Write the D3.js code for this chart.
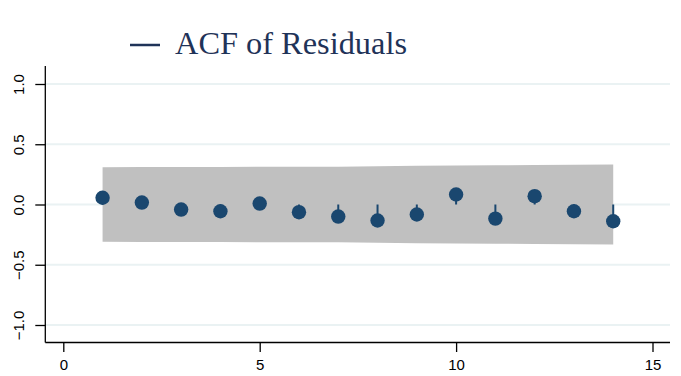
<!DOCTYPE html>
<html><head><meta charset="utf-8">
<script src="https://cdn.jsdelivr.net/npm/d3@7"></script>
<style>body{margin:0;background:#fff}svg{display:block}</style>
</head><body><svg id="c" width="681" height="376"></svg>
<script>
const lags = [1,2,3,4,5,6,7,8,9,10,11,12,13,14];
const acf = [0.056,0.016,-0.042,-0.056,0.008,-0.064,-0.100,-0.133,-0.083,0.083,-0.117,0.069,-0.056,-0.139];
const bandUpper = [0.310,0.311,0.311,0.312,0.313,0.313,0.314,0.317,0.321,0.323,0.325,0.328,0.329,0.331];
const bandLower = [-0.310,-0.311,-0.311,-0.312,-0.313,-0.313,-0.314,-0.317,-0.321,-0.323,-0.325,-0.328,-0.329,-0.331];
const xTicks = [0,5,10,15];
const yTicks = [-1.0,-0.5,0.0,0.5,1.0];
const legendLabel = "ACF of Residuals";

(function(){
const svg = d3.select("#c");
const x = d3.scaleLinear().domain([0,15]).range([63.3,652.5]);
const y = d3.scaleLinear().domain([-1,1]).range([325,84]);
const pLeft = 45.3, pRight = 670, pTop = 66, pBottom = 342.5;
const navy = "#1a476f";
const sans = "Liberation Sans, Arial, sans-serif";

// grid
svg.append("g").selectAll("line").data(yTicks).join("line")
  .attr("x1", pLeft).attr("x2", pRight).attr("y1", d=>y(d)).attr("y2", d=>y(d))
  .attr("stroke", "#eaf2f3").attr("stroke-width", 2);

// band
const band = lags.map((l,i)=>({l, u: bandUpper[i], lo: bandLower[i]}));
svg.append("path").datum(band)
  .attr("d", d3.area().x(d=>x(d.l)).y0(d=>y(d.lo)).y1(d=>y(d.u)))
  .attr("fill", "#c0c0c0");

// stems
svg.append("g").selectAll("line").data(lags).join("line")
  .attr("x1", d=>x(d)).attr("x2", d=>x(d))
  .attr("y1", y(0)).attr("y2", (d,i)=>y(acf[i]))
  .attr("stroke", navy).attr("stroke-width", 2);

// dots
svg.append("g").selectAll("circle").data(lags).join("circle")
  .attr("cx", d=>x(d)).attr("cy", (d,i)=>y(acf[i])).attr("r", 7.2)
  .attr("fill", navy);

// y axis
const yAxis = d3.axisLeft(y).tickValues(yTicks).tickFormat(d3.format(".1f")).tickSize(10).tickSizeOuter(0);
const gy = svg.append("g").attr("transform", `translate(${pLeft},0)`).call(yAxis);
gy.select(".domain").remove();
gy.append("line").attr("x1",0).attr("x2",0).attr("y1",pTop).attr("y2",pBottom).attr("stroke","#000").attr("stroke-width",1.3);
gy.selectAll(".tick line").attr("stroke","#000").attr("stroke-width",1.3);
gy.selectAll(".tick text")
  .attr("x", 0).attr("y", 0).attr("dy", "0.35em")
  .attr("transform", "translate(-26.5,0) rotate(-90)")
  .attr("text-anchor","middle")
  .attr("font-family",sans).attr("font-size",15).attr("fill","#000");

// x axis
const xAxis = d3.axisBottom(x).tickValues(xTicks).tickFormat(d3.format("d")).tickSize(9.5).tickSizeOuter(0);
const gx = svg.append("g").attr("transform", `translate(0,${pBottom})`).call(xAxis);
gx.select(".domain").remove();
gx.append("line").attr("x1",pLeft).attr("x2",pRight).attr("y1",0).attr("y2",0).attr("stroke","#000").attr("stroke-width",1.3);
gx.selectAll(".tick line").attr("stroke","#000").attr("stroke-width",1.3);
gx.selectAll(".tick text").attr("y", 17).attr("font-family",sans).attr("font-size",15).attr("fill","#000");

// legend
svg.append("line").attr("x1",130).attr("x2",160).attr("y1",45).attr("y2",45)
  .attr("stroke","#1f3358").attr("stroke-width",2.5);
svg.append("text").attr("x",175).attr("y",53.5).text(legendLabel)
  .attr("textLength", 232).attr("lengthAdjust", "spacingAndGlyphs")
  .attr("font-family","Liberation Serif, Times New Roman, serif").attr("font-size",31).attr("fill","#1f3358");
})();
</script></body></html>
